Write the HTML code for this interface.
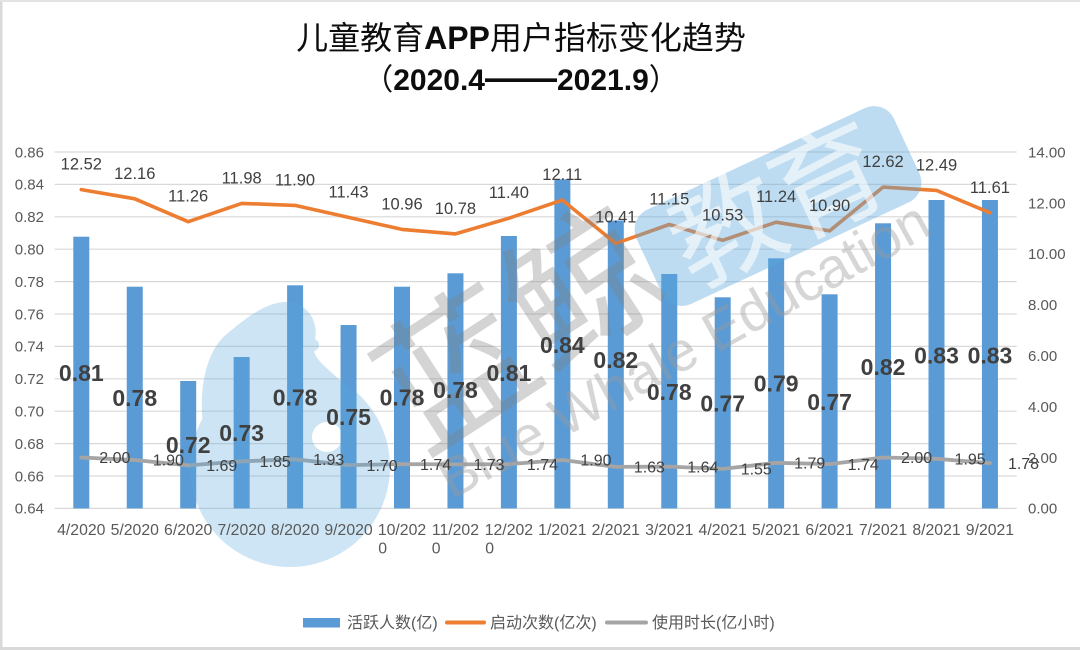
<!DOCTYPE html>
<html>
<head>
<meta charset="utf-8">
<style>
  html,body{margin:0;padding:0;background:#fff;}
  svg{display:block;}
  text{font-family:"Liberation Sans","Noto Sans CJK SC",sans-serif;}
</style>
</head>
<body>
<svg width="1080" height="650" viewBox="0 0 1080 650" xmlns="http://www.w3.org/2000/svg">
  <rect x="0" y="0" width="1080" height="650" fill="#ffffff"/>
  <!-- frame -->
  <line x1="1" y1="0" x2="1" y2="650" stroke="#d9d9d9" stroke-width="3"/>
  <line x1="0" y1="1" x2="1080" y2="1" stroke="#e3e3e3" stroke-width="2"/>
  <line x1="0" y1="648.5" x2="1080" y2="648.5" stroke="#d9d9d9" stroke-width="3"/>

  <!-- Title -->
  <text x="521" y="49" text-anchor="middle" font-size="32" fill="#0d0d0d">儿童教育<tspan font-weight="bold">APP</tspan>用户指标变化趋势</text>
  <text x="521" y="90" text-anchor="middle" font-size="30" fill="#0d0d0d"><tspan>（</tspan><tspan font-weight="bold">2020.4</tspan><tspan font-weight="bold" font-size="36">——</tspan><tspan font-weight="bold">2021.9</tspan><tspan>）</tspan></text>

  <!-- gridlines -->
  <g stroke="#d9d9d9" stroke-width="1.2">
    <line x1="54.6" y1="152.0" x2="1016.7" y2="152.0"/>
    <line x1="54.6" y1="184.4" x2="1016.7" y2="184.4"/>
    <line x1="54.6" y1="216.8" x2="1016.7" y2="216.8"/>
    <line x1="54.6" y1="249.2" x2="1016.7" y2="249.2"/>
    <line x1="54.6" y1="281.6" x2="1016.7" y2="281.6"/>
    <line x1="54.6" y1="314.0" x2="1016.7" y2="314.0"/>
    <line x1="54.6" y1="346.4" x2="1016.7" y2="346.4"/>
    <line x1="54.6" y1="378.8" x2="1016.7" y2="378.8"/>
    <line x1="54.6" y1="411.2" x2="1016.7" y2="411.2"/>
    <line x1="54.6" y1="443.6" x2="1016.7" y2="443.6"/>
    <line x1="54.6" y1="476.0" x2="1016.7" y2="476.0"/>
    <line x1="54.6" y1="508.4" x2="1016.7" y2="508.4"/>
  </g>

  <!-- left axis labels -->
  <g font-size="15" fill="#595959" text-anchor="end">
    <text x="44" y="157.3">0.86</text>
    <text x="44" y="189.7">0.84</text>
    <text x="44" y="222.1">0.82</text>
    <text x="44" y="254.5">0.80</text>
    <text x="44" y="286.9">0.78</text>
    <text x="44" y="319.3">0.76</text>
    <text x="44" y="351.7">0.74</text>
    <text x="44" y="384.1">0.72</text>
    <text x="44" y="416.5">0.70</text>
    <text x="44" y="448.9">0.68</text>
    <text x="44" y="481.3">0.66</text>
    <text x="44" y="513.7">0.64</text>
  </g>
  <!-- right axis labels -->
  <g font-size="15" fill="#595959" text-anchor="start">
    <text x="1028" y="157.4">14.00</text>
    <text x="1028" y="208.3">12.00</text>
    <text x="1028" y="259.2">10.00</text>
    <text x="1028" y="310.1">8.00</text>
    <text x="1028" y="361.0">6.00</text>
    <text x="1028" y="411.9">4.00</text>
    <text x="1028" y="462.8">2.00</text>
    <text x="1028" y="513.7">0.00</text>
  </g>

  <!-- bars -->
  <g fill="#5b9bd5">
    <rect x="73.30" y="236.7" width="16" height="271.7"/>
    <rect x="126.75" y="286.7" width="16" height="221.7"/>
    <rect x="180.20" y="381.0" width="16" height="127.4"/>
    <rect x="233.65" y="357.0" width="16" height="151.4"/>
    <rect x="287.10" y="285.3" width="16" height="223.1"/>
    <rect x="340.55" y="325.0" width="16" height="183.4"/>
    <rect x="394.00" y="286.7" width="16" height="221.7"/>
    <rect x="447.45" y="273.3" width="16" height="235.1"/>
    <rect x="500.90" y="236.0" width="16" height="272.4"/>
    <rect x="554.35" y="179.3" width="16" height="329.1"/>
    <rect x="607.80" y="220.5" width="16" height="287.9"/>
    <rect x="661.25" y="274.0" width="16" height="234.4"/>
    <rect x="714.70" y="297.3" width="16" height="211.1"/>
    <rect x="768.15" y="258.3" width="16" height="250.1"/>
    <rect x="821.60" y="294.3" width="16" height="214.1"/>
    <rect x="875.05" y="223.3" width="16" height="285.1"/>
    <rect x="928.50" y="200.0" width="16" height="308.4"/>
    <rect x="981.95" y="200.0" width="16" height="308.4"/>
  </g>

  <!-- orange line -->
  <polyline fill="none" stroke="#ed7d31" stroke-width="3.6" stroke-linejoin="round" stroke-linecap="round"
    points="81.30,189.6 134.75,198.8 188.20,221.7 241.65,203.4 295.10,205.4 348.55,217.4 402.00,229.4 455.45,233.9 508.90,218.2 562.35,200.1 615.80,243.4 669.25,224.5 722.70,240.3 776.15,222.2 829.60,230.9 883.05,187.1 936.50,190.4 989.95,212.8"/>
  <!-- gray line -->
  <polyline fill="none" stroke="#a5a5a5" stroke-width="3.8" stroke-linejoin="round" stroke-linecap="round"
    points="81.30,457.5 134.75,460.0 188.20,465.4 241.65,461.3 295.10,459.3 348.55,465.1 402.00,464.1 455.45,464.4 508.90,464.1 562.35,460.0 615.80,466.9 669.25,466.6 722.70,468.9 776.15,462.8 829.60,464.1 883.05,457.5 936.50,458.8 989.95,463.1"/>

  <!-- watermark -->
  <g opacity="0.3" fill="#5aa8dc">
    <path fill-rule="evenodd" d="M190 467 a100 100 0 1 0 200 0 a100 100 0 1 0 -200 0 Z M312 437 a15 15 0 1 0 30 0 a15 15 0 1 0 -30 0 Z"/>
    <path d="M203 425 C198 385 208 348 228 333 C246 318 268 300 290 302 C310 305 320 325 314 343 C310 358 328 368 342 382 C320 372 300 370 280 371 C250 373 220 395 203 425 Z"/>
    <circle cx="313" cy="345" r="6"/>
  </g>
  <text x="0" y="0" transform="translate(520,330) rotate(-33)" text-anchor="middle" dominant-baseline="central" font-size="150" fill="#808080" opacity="0.33">蓝鲸</text>
  <text x="0" y="0" transform="translate(452,500) rotate(-29)" font-size="56" fill="#9a9a9a" opacity="0.4">Blue Whale Education</text>
  <g transform="translate(778,206) rotate(-25)">
    <rect x="-142" y="-52" width="284" height="104" rx="22" ry="22" fill="#5aa8dc" opacity="0.4"/>
    <text x="0" y="0" text-anchor="middle" dominant-baseline="central" font-size="112" fill="#ffffff" opacity="0.6">教育</text>
  </g>

  <!-- orange labels -->
  <g font-size="16.5" fill="#404040" text-anchor="middle">
    <text x="81.30" y="169.6">12.52</text>
    <text x="134.75" y="178.8">12.16</text>
    <text x="188.20" y="201.7">11.26</text>
    <text x="241.65" y="183.4">11.98</text>
    <text x="295.10" y="185.4">11.90</text>
    <text x="348.55" y="197.4">11.43</text>
    <text x="402.00" y="209.4">10.96</text>
    <text x="455.45" y="213.9">10.78</text>
    <text x="508.90" y="198.2">11.40</text>
    <text x="562.35" y="180.1">12.11</text>
    <text x="615.80" y="222.4">10.41</text>
    <text x="669.25" y="204.5">11.15</text>
    <text x="722.70" y="220.3">10.53</text>
    <text x="776.15" y="202.2">11.24</text>
    <text x="829.60" y="210.9">10.90</text>
    <text x="883.05" y="167.1">12.62</text>
    <text x="936.50" y="170.4">12.49</text>
    <text x="989.95" y="192.8">11.61</text>
  </g>

  <!-- gray labels -->
  <g font-size="16" fill="#404040" text-anchor="start">
    <text x="99.3" y="463.2">2.00</text>
    <text x="152.75" y="465.7">1.90</text>
    <text x="206.2" y="471.1">1.69</text>
    <text x="259.65" y="467.0">1.85</text>
    <text x="313.1" y="465.0">1.93</text>
    <text x="366.55" y="470.8">1.70</text>
    <text x="420.0" y="469.8">1.74</text>
    <text x="473.45" y="470.1">1.73</text>
    <text x="526.9" y="469.8">1.74</text>
    <text x="580.35" y="465.7">1.90</text>
    <text x="633.8" y="472.6">1.63</text>
    <text x="687.25" y="472.3">1.64</text>
    <text x="740.7" y="474.6">1.55</text>
    <text x="794.15" y="468.5">1.79</text>
    <text x="847.6" y="469.8">1.74</text>
    <text x="901.05" y="463.2">2.00</text>
    <text x="954.5" y="464.5">1.95</text>
    <text x="1007.95" y="468.8">1.78</text>
  </g>

  <!-- bold bar labels -->
  <g font-size="23" font-weight="bold" fill="#404040" text-anchor="middle">
    <text x="81.30" y="381.2">0.81</text>
    <text x="134.75" y="406.2">0.78</text>
    <text x="188.20" y="453.2">0.72</text>
    <text x="241.65" y="441.2">0.73</text>
    <text x="295.10" y="405.4">0.78</text>
    <text x="348.55" y="425.2">0.75</text>
    <text x="402.00" y="405.4">0.78</text>
    <text x="455.45" y="398.2">0.78</text>
    <text x="508.90" y="381.2">0.81</text>
    <text x="562.35" y="353.2">0.84</text>
    <text x="615.80" y="368.2">0.82</text>
    <text x="669.25" y="400.0">0.78</text>
    <text x="722.70" y="411.5">0.77</text>
    <text x="776.15" y="391.3">0.79</text>
    <text x="829.60" y="410.0">0.77</text>
    <text x="883.05" y="375.0">0.82</text>
    <text x="936.50" y="363.6">0.83</text>
    <text x="989.95" y="363.6">0.83</text>
  </g>

  <!-- x axis labels -->
  <g font-size="15.8" fill="#595959" text-anchor="middle">
    <text x="81.30" y="535">4/2020</text>
    <text x="134.75" y="535">5/2020</text>
    <text x="188.20" y="535">6/2020</text>
    <text x="241.65" y="535">7/2020</text>
    <text x="295.10" y="535">8/2020</text>
    <text x="348.55" y="535">9/2020</text>
    <text x="402.00" y="535">10/202</text>
    <text x="455.45" y="535">11/202</text>
    <text x="508.90" y="535">12/202</text>
    <text x="562.35" y="535">1/2021</text>
    <text x="615.80" y="535">2/2021</text>
    <text x="669.25" y="535">3/2021</text>
    <text x="722.70" y="535">4/2021</text>
    <text x="776.15" y="535">5/2021</text>
    <text x="829.60" y="535">6/2021</text>
    <text x="883.05" y="535">7/2021</text>
    <text x="936.50" y="535">8/2021</text>
    <text x="989.95" y="535">9/2021</text>
  </g>
  <g font-size="15.8" fill="#595959" text-anchor="start">
    <text x="378.3" y="553.5">0</text>
    <text x="431.7" y="553.5">0</text>
    <text x="485.2" y="553.5">0</text>
  </g>

  <!-- legend -->
  <rect x="303" y="618" width="37" height="9.5" fill="#5b9bd5"/>
  <text x="347" y="628" font-size="16" fill="#595959">活跃人数(亿)</text>
  <line x1="447" y1="622.5" x2="484" y2="622.5" stroke="#ed7d31" stroke-width="4" stroke-linecap="round"/>
  <text x="490" y="628" font-size="16" fill="#595959">启动次数(亿次)</text>
  <line x1="607" y1="622.5" x2="646" y2="622.5" stroke="#a5a5a5" stroke-width="4" stroke-linecap="round"/>
  <text x="652" y="628" font-size="16" fill="#595959">使用时长(亿小时)</text>
</svg>
</body>
</html>
